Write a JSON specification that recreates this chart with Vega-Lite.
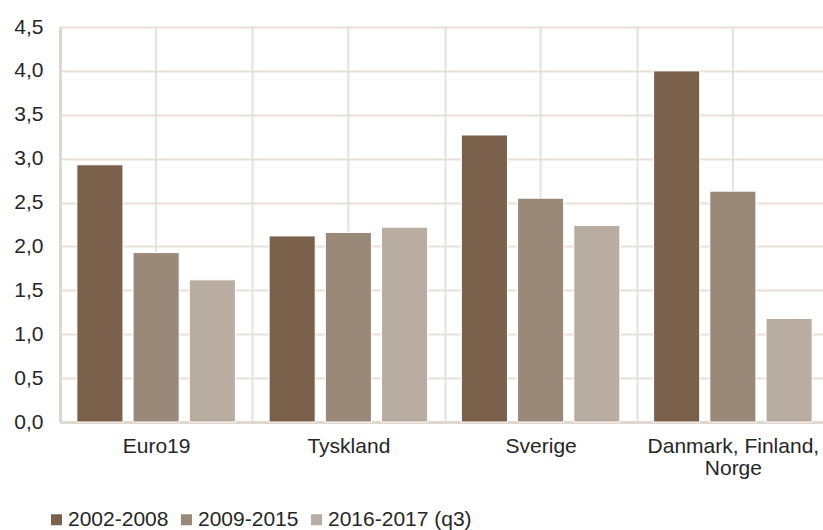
{
  "$schema": "https://vega.github.io/schema/vega-lite/v6.json",
  "autosize": {"type": "none"},
  "width": 769,
  "height": 395,
  "padding": {"left": 60, "top": 27, "right": 0, "bottom": 108},
  "background": "#ffffff",
  "config": {
    "view": {"stroke": null},
    "font": "Liberation Sans",
    "axis": {
      "labelFont": "Liberation Sans",
      "labelFontSize": 21,
      "labelColor": "#262626",
      "gridColor": "#E8E1DA",
      "gridWidth": 2,
      "domainColor": "#E0D7CE",
      "domainWidth": 3,
      "ticks": false,
      "tickSize": 0,
      "title": null
    },
    "legend": {
      "labelFont": "Liberation Sans",
      "labelFontSize": 21,
      "labelColor": "#262626",
      "padding": 0
    }
  },
  "data": {
    "values": [
      {"land": "Euro19", "periode": "2002-2008", "verdi": 2.93},
      {"land": "Euro19", "periode": "2009-2015", "verdi": 1.93},
      {"land": "Euro19", "periode": "2016-2017 (q3)", "verdi": 1.62},
      {"land": "Tyskland", "periode": "2002-2008", "verdi": 2.12},
      {"land": "Tyskland", "periode": "2009-2015", "verdi": 2.16},
      {"land": "Tyskland", "periode": "2016-2017 (q3)", "verdi": 2.22},
      {"land": "Sverige", "periode": "2002-2008", "verdi": 3.27},
      {"land": "Sverige", "periode": "2009-2015", "verdi": 2.55},
      {"land": "Sverige", "periode": "2016-2017 (q3)", "verdi": 2.24},
      {"land": "Danmark, Finland, Norge", "periode": "2002-2008", "verdi": 4.0},
      {"land": "Danmark, Finland, Norge", "periode": "2009-2015", "verdi": 2.63},
      {"land": "Danmark, Finland, Norge", "periode": "2016-2017 (q3)", "verdi": 1.18}
    ]
  },
  "encoding": {
    "x": {
      "field": "land",
      "type": "nominal",
      "sort": null,
      "scale": {"paddingInner": 0, "paddingOuter": 0},
      "axis": {
        "grid": true,
        "tickBand": "extent",
        "labelAngle": 0,
        "labelPadding": 13,
        "labelLineHeight": 22,
        "labelExpr": "datum.value == 'Danmark, Finland, Norge' ? ['Danmark, Finland,', 'Norge'] : datum.label"
      }
    }
  },
  "layer": [
    {
      "transform": [{"filter": {"field": "periode", "equal": "2002-2008"}}],
      "mark": {"type": "rule", "color": "#E8E1DA", "strokeWidth": 2},
      "encoding": {}
    },
    {
      "mark": {"type": "bar", "stroke": "#ffffff", "strokeWidth": 1},
      "encoding": {
        "xOffset": {
          "field": "periode",
          "type": "nominal",
          "sort": null,
          "scale": {"paddingInner": 0.18, "paddingOuter": 0.3}
        },
        "y": {
          "field": "verdi",
          "type": "quantitative",
          "scale": {"domain": [0, 4.5], "nice": false},
          "axis": {
            "values": [0, 0.5, 1, 1.5, 2, 2.5, 3, 3.5, 4, 4.5],
            "format": ".1f",
            "labelExpr": "replace(datum.label, '.', ',')",
            "labelPadding": 17,
            "grid": true
          }
        },
        "color": {
          "field": "periode",
          "type": "nominal",
          "sort": null,
          "scale": {
            "domain": ["2002-2008", "2009-2015", "2016-2017 (q3)"],
            "range": ["#7B614B", "#9A8978", "#B9ACA1"]
          },
          "legend": {
            "title": null,
            "orient": "none",
            "direction": "horizontal",
            "legendX": -14,
            "legendY": 482,
            "symbolType": "square",
            "symbolSize": 121,
            "symbolStrokeWidth": 0,
            "labelOffset": 1,
            "columnPadding": 7
          }
        }
      }
    }
  ]
}
